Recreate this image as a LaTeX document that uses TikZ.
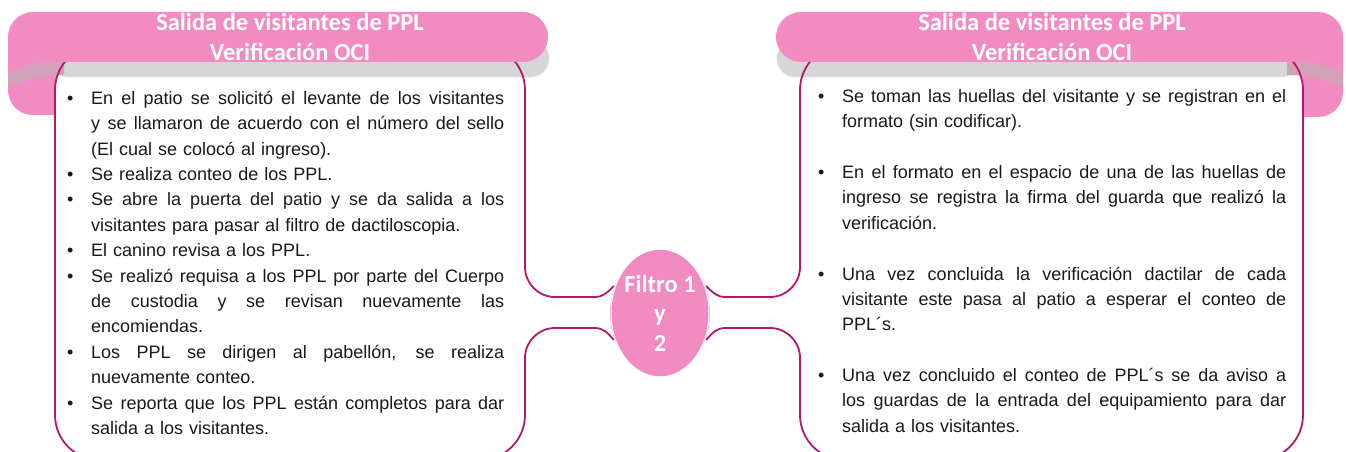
\documentclass[tikz,border=0pt]{standalone}
\usepackage{fontspec}
\setmainfont{Liberation Sans}
\newfontfamily\titlefont{Carlito}
\usetikzlibrary{shapes.geometric}
\definecolor{pinkfill}{RGB}{242,139,193}
\definecolor{magline}{RGB}{180,24,110}
\definecolor{greyband}{RGB}{214,214,214}
\definecolor{greypink}{RGB}{212,162,184}
\definecolor{txtcol}{RGB}{25,25,25}
\newlength{\lw}\setlength{\lw}{413pt}
\newlength{\rw}\setlength{\rw}{444pt}
\newcommand{\bul}{\makebox[24pt][l]{\textbullet}}
\newcommand{\nob}{\hspace*{24pt}}
\newcommand{\jl}[2]{\hbox to #1{\spaceskip=0.25em plus 1fil\relax #2}}
\newcommand{\fs}{\rule{0pt}{15pt}}
\tikzset{
  mline/.style={draw=magline, line width=1.8pt, line cap=round},
  titletxt/.style={font=\titlefont\bfseries\fontsize{24.5}{30}\selectfont, text=white, align=center, inner sep=0pt},
  bodytxt/.style={font=\fontsize{18}{25.4}\selectfont, text=txtcol, align=left, inner sep=0pt, anchor=north west},
}
\begin{document}
\begin{tikzpicture}[x=1pt,y=-1pt]
\useasboundingbox (0,0) rectangle (1346,452);
\clip (0,0) rectangle (1346,452);
\fill[white] (0,0) rectangle (1346,452);
% ---- flaps
\fill[pinkfill] (8,37) -- (8,90) .. controls (8,104) and (19,115) .. (33,115) -- (70,115) -- (70,37) -- cycle;
\fill[pinkfill] (1343,37) -- (1343,92) .. controls (1343,106) and (1332,117) .. (1318,117) -- (1280,117) -- (1280,37) -- cycle;
% ---- box fills
\fill[white, rounded corners=45pt] (55,45) rectangle (525,460);
\fill[white, rounded corners=45pt] (800,45) rectangle (1303,460);
% ---- grey bands
\fill[greyband, rounded corners=18pt] (50,40) rectangle (549,77);
\fill[greypink] (8,73) .. controls (25,64) and (45,61) .. (64,61) -- (64,75) .. controls (45,75) and (25,79) .. (8,88) -- cycle;
\fill[greyband, rounded corners=18pt] (777,40) rectangle (1300,77);
\fill[greypink] (1343,73) .. controls (1326,64) and (1306,61) .. (1287,61) -- (1287,75) .. controls (1306,75) and (1326,79) .. (1343,88) -- cycle;
% ---- centre node
\node[ellipse, fill=pinkfill, draw=white, line width=1pt, minimum width=98pt, minimum height=128pt, inner sep=0pt, font=\titlefont\bfseries\fontsize{24.5}{29.5}\selectfont, text=white, align=center] (filtro) at (660,313) {Filtro 1\\y\\2};
% ---- box coordinates
\coordinate (lbu) at (525,267);
\coordinate (lbl) at (525,358);
\coordinate (rbu) at (800,267);
\coordinate (rbl) at (800,358);
% ---- box outlines
\draw[mline, rounded corners=45pt] (lbu) -- (525,45) -- (55,45) -- (55,460) -- (525,460) -- (lbl);
\draw[mline, rounded corners=45pt] (rbu) -- (800,45) -- (1303,45) -- (1303,460) -- (800,460) -- (rbl);
% ---- connectors
\draw[mline] (filtro.150) .. controls (608,292) and (603,297) .. (595,297) -- (555,297) .. controls (538.4,297) and (525,283.6) .. (lbu);
\draw[mline] (filtro.210) .. controls (608,333) and (603,328) .. (595,328) -- (555,328) .. controls (538.4,328) and (525,341.4) .. (lbl);
\draw[mline] (filtro.30) .. controls (712,292) and (717,297) .. (725,297) -- (770,297) .. controls (786.6,297) and (800,283.6) .. (rbu);
\draw[mline] (filtro.330) .. controls (712,333) and (717,328) .. (725,328) -- (770,328) .. controls (786.6,328) and (800,341.4) .. (rbl);
\node[ellipse, draw=white, line width=1pt, minimum width=98pt, minimum height=128pt] (filtroring) at (filtro) {};
% ---- banners
\fill[pinkfill, rounded corners=25pt] (8,12) rectangle (548,62);
\fill[pinkfill, rounded corners=25pt] (776,12) rectangle (1343,62);
\node[titletxt] (lefttitle) at (290,37) {Salida de visitantes de PPL\\Verificación OCI};
\node[titletxt] (righttitle) at (1052,37) {Salida de visitantes de PPL\\Verificación OCI};
% ---- left text
\node[bodytxt, text width=437pt] (lefttext) at (67,89) {%
\fs\bul\jl{\lw}{En el patio se solicitó el levante de los visitantes}\\
\nob\jl{\lw}{y se llamaron de acuerdo con el número del sello}\\
\nob(El cual se colocó al ingreso).\\
\bul Se realiza conteo de los PPL.\\
\bul\jl{\lw}{Se abre la puerta del patio y se da salida a los}\\
\nob visitantes para pasar al filtro de dactiloscopia.\\
\bul El canino revisa a los PPL.\\
\bul\jl{\lw}{Se realizó requisa a los PPL por parte del Cuerpo}\\
\nob\jl{\lw}{de custodia y se revisan nuevamente las}\\
\nob encomiendas.\\
\bul\jl{\lw}{Los PPL se dirigen al pabellón, se realiza}\\
\nob nuevamente conteo.\\
\bul\jl{\lw}{Se reporta que los PPL están completos para dar}\\
\nob salida a los visitantes.};
% ---- right text
\node[bodytxt, text width=468pt] (righttext) at (818,87) {%
\fs\bul\jl{\rw}{Se toman las huellas del visitante y se registran en el}\\
\nob formato (sin codificar).\\
\mbox{}\\
\bul\jl{\rw}{En el formato en el espacio de una de las huellas de}\\
\nob\jl{\rw}{ingreso se registra la firma del guarda que realizó la}\\
\nob verificación.\\
\mbox{}\\
\bul\jl{\rw}{Una vez concluida la verificación dactilar de cada}\\
\nob\jl{\rw}{visitante este pasa al patio a esperar el conteo de}\\
\nob PPL´s.\\
\mbox{}\\
\bul\jl{\rw}{Una vez concluido el conteo de PPL´s se da aviso a}\\
\nob\jl{\rw}{los guardas de la entrada del equipamiento para dar}\\
\nob salida a los visitantes.};
\end{tikzpicture}
\end{document}
